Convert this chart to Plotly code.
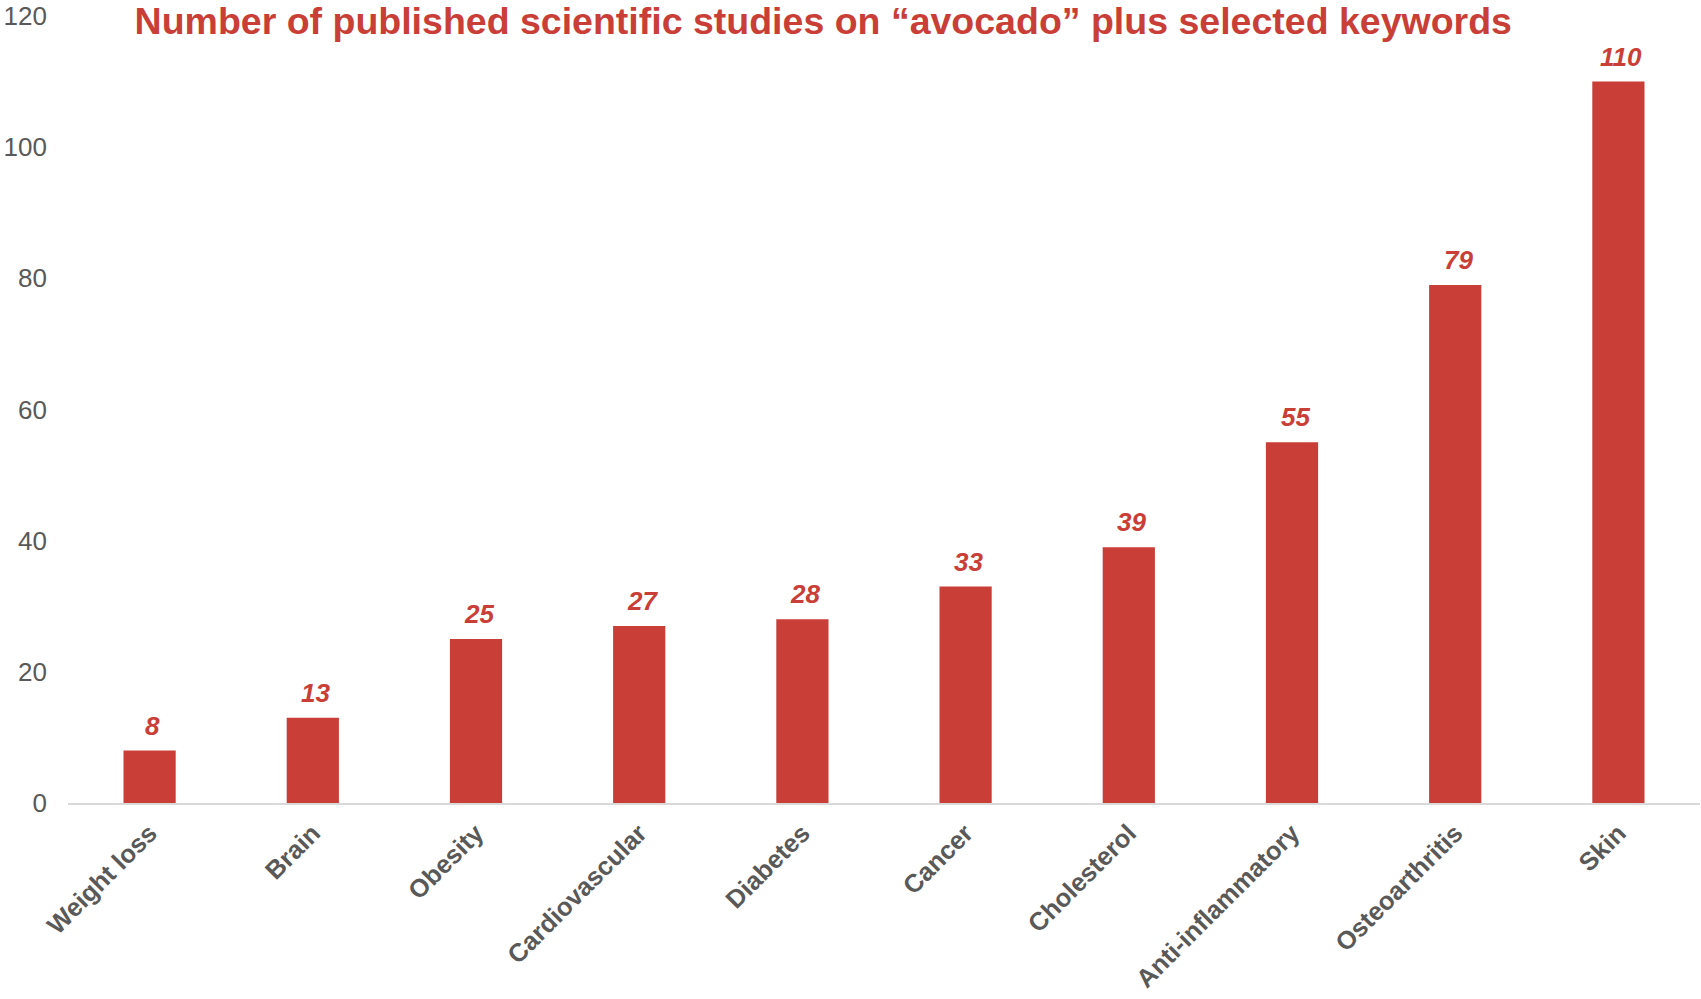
import plotly.graph_objects as go

categories = ["Weight loss", "Brain", "Obesity", "Cardiovascular", "Diabetes",
              "Cancer", "Cholesterol", "Anti-inflammatory", "Osteoarthritis", "Skin"]
values = [8, 13, 25, 27, 28, 33, 39, 55, 79, 110]
y_ticks = [0, 20, 40, 60, 80, 100, 120]

RED = "#C93F37"
GREY = "#595959"
FONT = "Liberation Sans, Arial, sans-serif"

fig = go.Figure()
fig.add_trace(go.Bar(x=categories, y=values, marker_color=RED, marker_line_width=0,
                     hoverinfo="x+y"))

for c, v in zip(categories, values):
    fig.add_annotation(x=c, y=v, text=f"<b><i>{v}</i></b>", showarrow=False,
                       yanchor="bottom", yshift=8, xshift=3,
                       font=dict(family=FONT, size=26, color=RED))

fig.update_layout(
    width=1701, height=999,
    margin=dict(l=68, r=1, t=16, b=196),
    paper_bgcolor="white", plot_bgcolor="white",
    bargap=0.68,
    showlegend=False,
    title=dict(text="<b>Number of published scientific studies on “avocado” plus selected keywords</b>",
               x=0.484, xanchor="center", xref="container",
               y=1 - 21 / 999, yanchor="middle", yref="container",
               font=dict(family=FONT, size=37.5, color=RED)),
    xaxis=dict(tickangle=-45, showgrid=False, showline=True, linecolor="#D9D9D9",
               linewidth=2, ticks="", ticklabelstandoff=3, automargin=False,
               tickfont=dict(family=FONT, size=25.5, color=GREY),
               tickprefix="<b>", ticksuffix="</b>"),
    yaxis=dict(range=[0, 120], tickvals=y_ticks, showgrid=False, zeroline=False,
               showline=False, ticks="", ticklabelstandoff=20, automargin=False,
               tickfont=dict(family=FONT, size=26, color=GREY)),
)

fig.write_html("out.html")
